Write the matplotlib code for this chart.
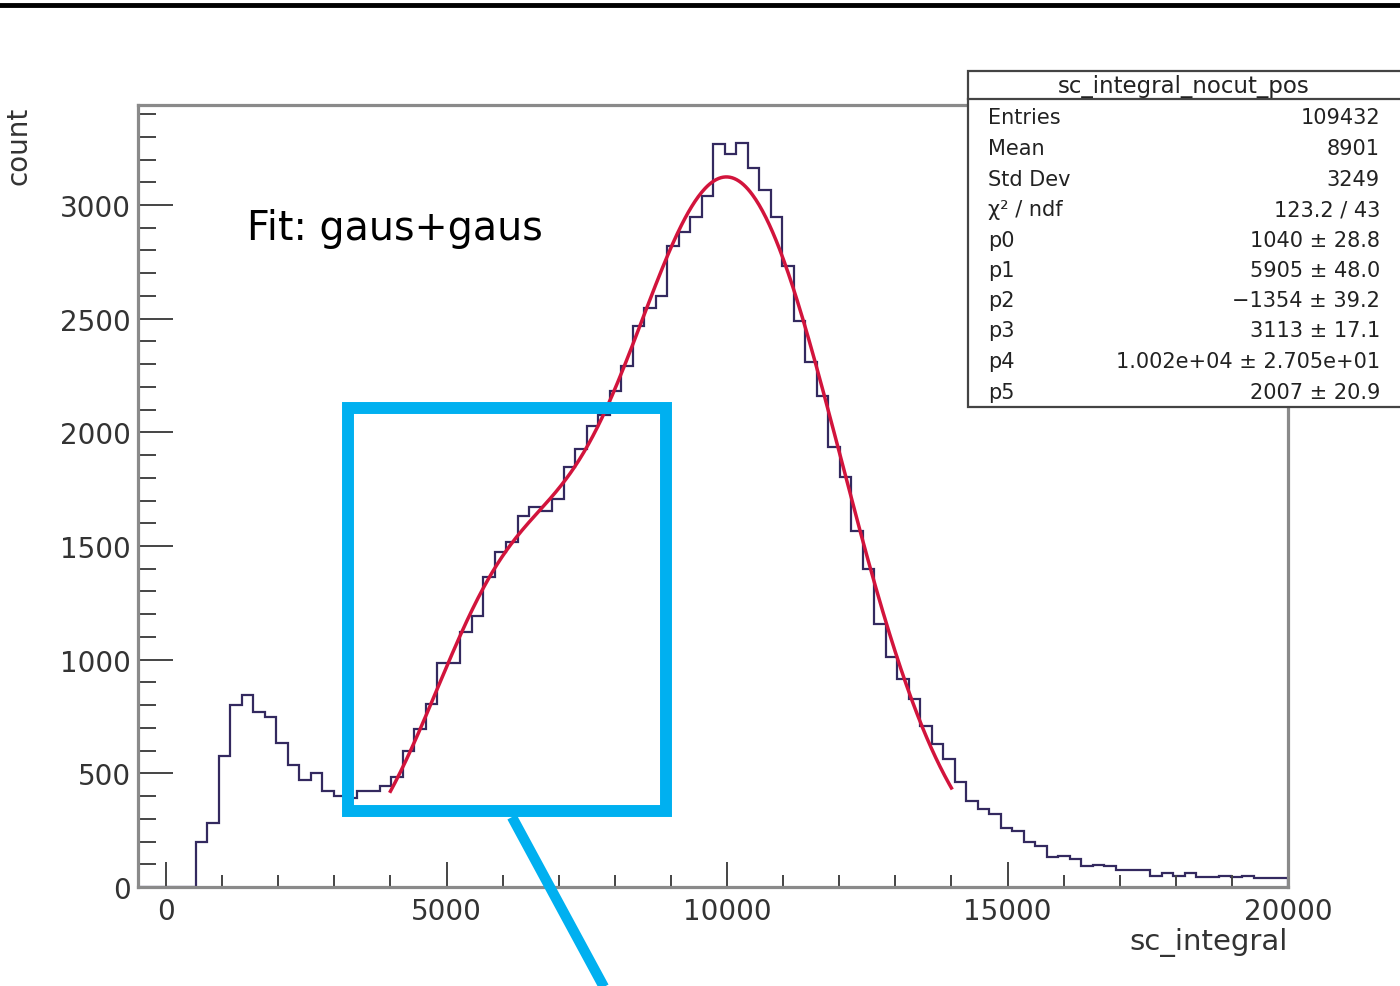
import numpy as np
import matplotlib
matplotlib.use("Agg")
import matplotlib.pyplot as plt
from matplotlib.patches import Rectangle
from matplotlib.lines import Line2D

# ---------------- data ----------------
bin_lo, bin_hi, n_bins = -500, 20000, 100
counts = [
    0, 0, 0, 0, 0,
    199, 281, 575, 800, 845, 768, 746, 632, 537, 472, 501, 424, 402, 392, 424, 424, 444,
    482, 600, 695, 805, 985, 985, 1120, 1193, 1365, 1472, 1516, 1634, 1670, 1655, 1707,
    1846, 1927, 2029, 2075, 2180, 2290, 2470, 2545, 2601, 2821, 2880, 2946, 3041,
    3269, 3225, 3273, 3162, 3068, 2946, 2733, 2491, 2308, 2161, 1934, 1802, 1568, 1399,
    1157, 1010, 915, 827, 710, 629, 563, 463, 380, 343, 321,
    258, 248, 197, 182, 131, 138, 123, 94, 97, 91, 76, 76, 76, 50, 62, 50, 62, 43, 43,
    50, 43, 50, 40, 40, 40,
]
fit_params = [1040, 5905, 1354, 3113, 1.002e4, 2007]
fit_range = (4000, 14000)

stat_title = "sc_integral_nocut_pos"
stat_labels = ["Entries", "Mean", "Std Dev", "χ² / ndf", "p0", "p1", "p2", "p3", "p4", "p5"]
stat_values = ["109432", "8901", "3249", "123.2 / 43", "1040 ± 28.8", "5905 ± 48.0",
               "−1354 ± 39.2", "3113 ± 17.1", "1.002e+04 ± 2.705e+01", "2007 ± 20.9"]

x_major = [0, 5000, 10000, 15000, 20000]
y_major = [0, 500, 1000, 1500, 2000, 2500, 3000]
xlim = (-500, 20000)
ylim = (0, 3440)

# ---------------- figure ----------------
W, H = 1400, 987
fig = plt.figure(figsize=(W / 100, H / 100), dpi=100)
plt.rcParams['font.family'] = ['DejaVu Sans']

def fx(x):
    return x / W

def fy(y):
    return 1 - y / H

L, R, T, B = 138, 1288, 106, 888
ax = fig.add_axes([fx(L), fy(B), (R - L) / W, (B - T) / H])

edges = np.linspace(bin_lo, bin_hi, n_bins + 1)
ax.stairs(counts, edges, color="#33295f", lw=1.6, baseline=0)

p0, p1, p2, p3, p4, p5 = fit_params
xf = np.linspace(fit_range[0], fit_range[1], 500)
yf = p0 * np.exp(-0.5 * ((xf - p1) / p2) ** 2) + p3 * np.exp(-0.5 * ((xf - p4) / p5) ** 2)
ax.plot(xf, yf, color="#d2143c", lw=2.5, zorder=3)

ax.set_xlim(*xlim)
ax.set_ylim(*ylim)
ax.set_xticks(x_major)
ax.set_xticks(np.arange(1000, 20000, 1000), minor=True)
ax.set_yticks(y_major)
ax.set_yticks(np.arange(100, 3440, 100), minor=True)
ax.set_xticklabels([str(v) for v in x_major])
ax.set_yticklabels([str(v) for v in y_major])

ax.tick_params(axis='x', which='major', direction='in', length=18, width=1.4,
               color='#444444', labelsize=20, pad=7, labelcolor='#333333')
ax.tick_params(axis='x', which='minor', direction='in', length=9, width=1.4, color='#444444')
ax.tick_params(axis='y', which='major', direction='in', length=25, width=1.4,
               color='#444444', labelsize=20, pad=5, labelcolor='#333333')
ax.tick_params(axis='y', which='minor', direction='in', length=13, width=1.4, color='#444444')

for s in ax.spines.values():
    s.set_color('#8a8a8a')
    s.set_linewidth(2.3)

# axis titles
fig.text(fx(1288), fy(943), "sc_integral", ha='right', va='center', fontsize=21, color='#333333')
fig.text(fx(18), fy(146), "count", ha='center', va='center', rotation=90, fontsize=20, color='#333333')

# fit annotation
fig.text(fx(247), fy(229), "Fit: gaus+gaus", ha='left', va='center', fontsize=28.5, color='black')

# stat box
box = Rectangle((fx(968), fy(408)), 0.4, (408 - 72) / H, transform=fig.transFigure,
                facecolor='white', edgecolor='#444444', lw=1.6, zorder=10)
fig.add_artist(box)
fig.add_artist(Line2D([fx(968), 1.0], [fy(100), fy(100)], transform=fig.transFigure,
                      color='#444444', lw=1.6, zorder=11))
fig.text(fx(1184), fy(86), stat_title, ha='center', va='center', fontsize=16.5,
         color='#222222', zorder=12)
row_y = [118, 149, 180, 210, 241, 271, 301, 331, 362, 393]
for lab, val, yy in zip(stat_labels, stat_values, row_y):
    fig.text(fx(988), fy(yy), lab, ha='left', va='center', fontsize=15, color='#222222', zorder=12)
    fig.text(fx(1380), fy(yy), val, ha='right', va='center', fontsize=15, color='#222222', zorder=12)

# cyan highlight box and pointer
cyan = '#00b0f0'
fig.add_artist(Rectangle((fx(348), fy(812)), (666 - 348) / W, (812 - 409) / H,
                         transform=fig.transFigure, facecolor='none', edgecolor=cyan,
                         lw=8.6, zorder=20))
fig.add_artist(Line2D([fx(512), fx(605)], [fy(818), fy(990)], transform=fig.transFigure,
                      color=cyan, lw=7.5, zorder=20, solid_capstyle='butt'))

# top black bar
fig.add_artist(Line2D([0, 1], [fy(6), fy(6)], transform=fig.transFigure,
                      color='black', lw=3.5, zorder=30))

fig.savefig("out.png", dpi=100)
